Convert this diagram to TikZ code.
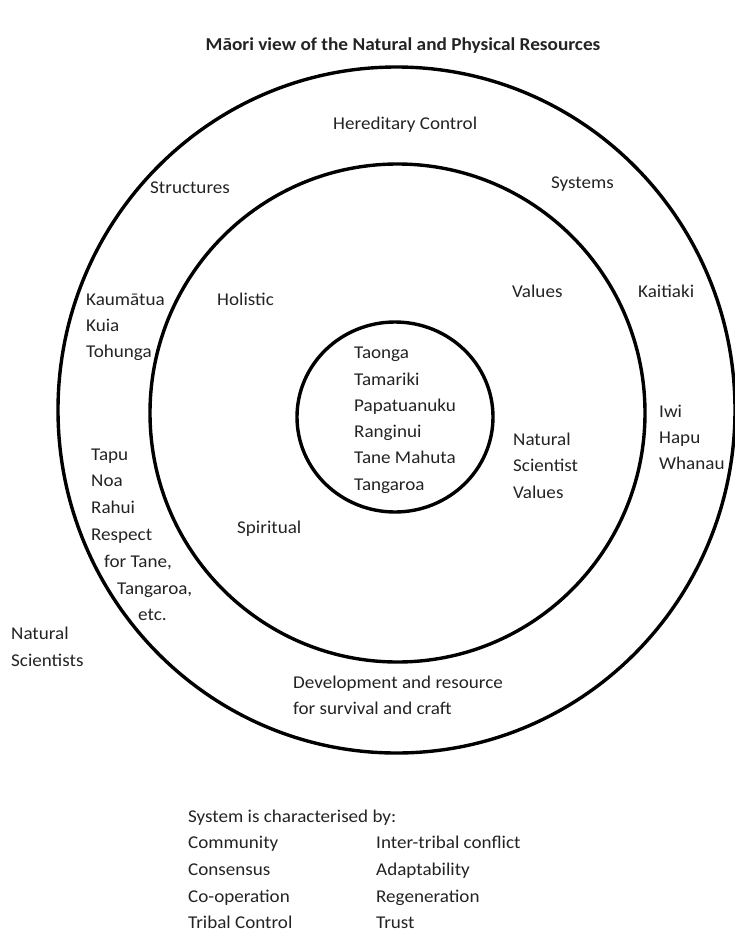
\documentclass[tikz,border=0pt]{standalone}
\usepackage{fontspec}
\setmainfont[FakeStretch=1.06]{Carlito}
\definecolor{inkgray}{RGB}{35,35,35}
\begin{document}
\begin{tikzpicture}[x=1pt,y=-1pt,
  ring/.style={line width=3.4pt, black},
  lbl/.style={anchor=base west, inner sep=0pt, text=inkgray,
    font=\fontsize{18}{26}\selectfont},
  heading/.style={anchor=base, inner sep=0pt, text=inkgray,
    font=\bfseries\fontsize{18.2}{22}\selectfont}]
\useasboundingbox (0,0) rectangle (735,932);

% three concentric rings
\draw[ring] (396.5,410) ellipse [x radius=338.5, y radius=343];
\draw[ring] (397.5,413) ellipse [x radius=247.5, y radius=249];
\draw[ring] (395,417) ellipse [x radius=98, y radius=95];

% title
\node[heading] (title) at (403,50) {Māori view of the Natural and Physical Resources};

% outer ring
\node[lbl] (hered) at (333,129) {Hereditary Control};
\node[lbl] (struct) at (150,193) {Structures};
\node[lbl] (systems) at (551,188) {Systems};
\node[lbl] (kaum) at (86,305) {Kaumātua};
\node[lbl] (kuia) at (86,331) {Kuia};
\node[lbl] (tohu) at (86,357) {Tohunga};
\node[lbl] (kait) at (638,297) {Kaitiaki};
\node[lbl] (iwi) at (659,417) {Iwi};
\node[lbl] (hapu) at (659,443) {Hapu};
\node[lbl] (whanau) at (659,469) {Whanau};
\node[lbl] (tapu) at (91,460) {Tapu};
\node[lbl] (noa) at (91,486) {Noa};
\node[lbl] (rahui) at (91,513) {Rahui};
\node[lbl] (respect) at (91,540) {Respect};
\node[lbl] (fortane) at (104,567) {for Tane,};
\node[lbl] (tangaroa2) at (117,594) {Tangaroa,};
\node[lbl] (etc) at (138,620) {etc.};
\node[lbl] (devel) at (293,688) {Development and resource};
\node[lbl] (surv) at (293,714) {for survival and craft};

% middle ring
\node[lbl] (holistic) at (217,305) {Holistic};
\node[lbl] (values) at (512,297) {Values};
\node[lbl] (nsv1) at (513,445) {Natural};
\node[lbl] (nsv2) at (513,471) {Scientist};
\node[lbl] (nsv3) at (513,498) {Values};
\node[lbl] (spirit) at (237,533) {Spiritual};

% centre
\node[lbl] (taonga) at (354,358) {Taonga};
\node[lbl] (tamariki) at (354,385) {Tamariki};
\node[lbl] (papa) at (354,411) {Papatuanuku};
\node[lbl] (rangi) at (354,437) {Ranginui};
\node[lbl] (tane) at (354,463) {Tane Mahuta};
\node[lbl] (tangaroa) at (354,490) {Tangaroa};

% outside the rings
\node[lbl] (ns1) at (11,639) {Natural};
\node[lbl] (ns2) at (11,666) {Scientists};

% characteristics list
\node[lbl] (sys) at (188,822) {System is characterised by:};
\node[lbl] (c1) at (188,848) {Community};
\node[lbl] (c2) at (188,875) {Consensus};
\node[lbl] (c3) at (188,902) {Co-operation};
\node[lbl] (c4) at (188,928) {Tribal Control};
\node[lbl] (d1) at (376,848) {Inter-tribal conflict};
\node[lbl] (d2) at (376,875) {Adaptability};
\node[lbl] (d3) at (376,902) {Regeneration};
\node[lbl] (d4) at (376,928) {Trust};
\end{tikzpicture}
\end{document}
